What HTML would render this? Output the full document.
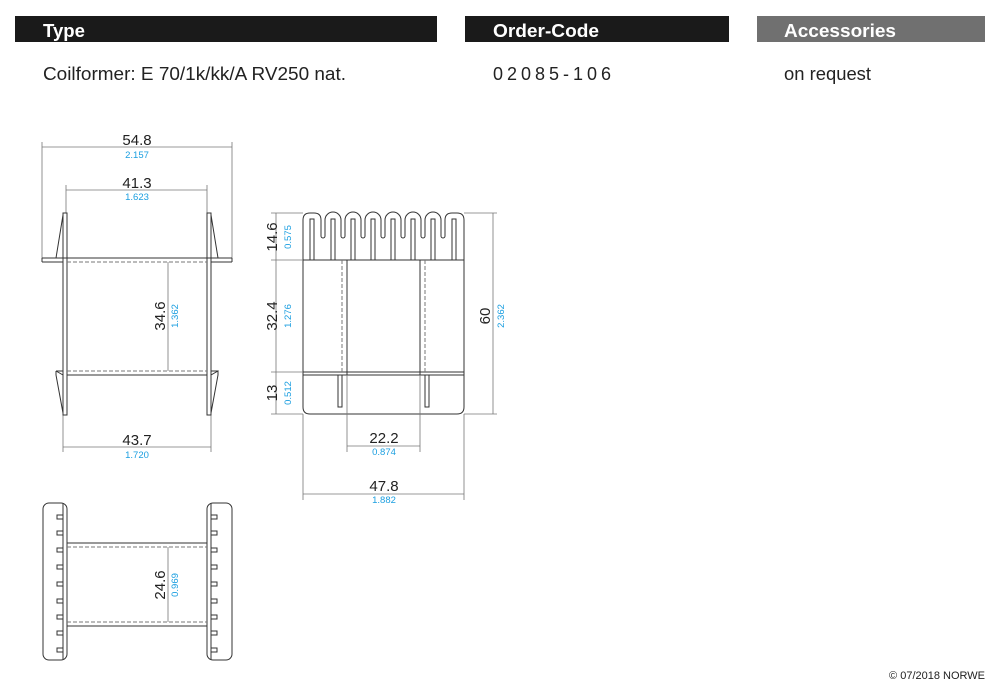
<!DOCTYPE html>
<html><head><meta charset="utf-8"><style>
html,body{margin:0;padding:0;background:#fff;width:1000px;height:697px;overflow:hidden}
svg{display:block}
.t{font-family:"Liberation Sans",sans-serif}
</style></head><body>
<svg width="1000" height="697" viewBox="0 0 1000 697" xmlns="http://www.w3.org/2000/svg">
<rect x="15" y="16" width="422" height="26" fill="#1a1a1a"/>
<rect x="465" y="16" width="264" height="26" fill="#1a1a1a"/>
<rect x="757" y="16" width="228" height="26" fill="#707070"/>
<g class="t" font-size="18" font-weight="bold" fill="#fff">
<text x="43" y="37" textLength="42" lengthAdjust="spacingAndGlyphs">Type</text><text x="493" y="37" textLength="106" lengthAdjust="spacingAndGlyphs">Order-Code</text><text x="784" y="37" textLength="112" lengthAdjust="spacingAndGlyphs">Accessories</text></g>
<g class="t" font-size="18" fill="#222">
<text x="43" y="80" textLength="303" lengthAdjust="spacingAndGlyphs">Coilformer:  E 70/1k/kk/A RV250 nat.</text>
<text x="493" y="80" textLength="118" lengthAdjust="spacing">02085-106</text>
<text x="784" y="80" textLength="87" lengthAdjust="spacingAndGlyphs">on request</text></g>
<text class="t" x="985" y="679" font-size="11" fill="#222" text-anchor="end">© 07/2018 NORWE</text>

<g fill="none" stroke="#333" stroke-width="1">
<path d="M42,142V262M232,142V262M42,147H232M66,185V213M207,185V213M66,190H207M63,415V452M211,415V452M63,447H211" stroke="#777" stroke-width="0.8"/>
<rect x="63" y="213" width="4" height="202" fill="#fff"/>
<rect x="207" y="213" width="4" height="202" fill="#fff"/>
<path d="M63,215L56,258H63M211,215L218,258H211"/>
<path d="M63,375L56,371M56,371V375L63,413M211,375L218,371V375L211,413"/>
<path d="M42,258H232M42,262H63M211,262H232M42,258V262M232,258V262"/>
<path d="M67,262H207M67,371H207" stroke-dasharray="4,2" stroke="#777"/>
<path d="M67,375H207M56,371H63M211,371H218"/>
<path d="M168,262V371" stroke="#777" stroke-width="0.8"/>
<path d="M303,260V220Q303,213 310,213H314Q321,213 321,220V236A2,2 0 0 0 325,236V220A8,8 0 0 1 341,220V236A2,2 0 0 0 345,236V220A8,8 0 0 1 361,220V236A2,2 0 0 0 365,236V220A8,8 0 0 1 381,220V236A2,2 0 0 0 385,236V220A8,8 0 0 1 401,220V236A2,2 0 0 0 405,236V220A8,8 0 0 1 421,220V236A2,2 0 0 0 425,236V220A8,8 0 0 1 441,220V236A2,2 0 0 0 445,236V220Q445,213 452,213H457Q464,213 464,220V407Q464,414 457,414H310Q303,414 303,407Z"/>
<path d="M310,260V219H314V260M331,260V219H335V260M351,260V219H355V260M371,260V219H375V260M391,260V219H395V260M411,260V219H415V260M431,260V219H435V260M452,260V219H456V260"/>
<path d="M303,260H464M303,372H464M303,375H464M347,260V375M420,260V375"/>
<path d="M342,260V372M425,260V372" stroke-dasharray="4,2" stroke="#777"/>
<rect x="338" y="375" width="4" height="32"/><rect x="425" y="375" width="4" height="32"/>
<path d="M271,213H303M271,260H303M271,372H303M271,414H303M276,213V414M464,213H497M464,414H497M493,213V414M347,375V452M420,375V452M347,446H420M303,414V500M464,414V500M303,494H464" stroke="#777" stroke-width="0.8"/>
<rect x="43" y="503" width="24" height="157" rx="6"/>
<rect x="207" y="503" width="25" height="157" rx="6"/>
<path d="M63,503V660M211,503V660"/>
<g id="pl">
<rect x="57" y="515" width="6" height="4"/><rect x="57" y="531" width="6" height="4"/><rect x="57" y="548" width="6" height="4"/><rect x="57" y="565" width="6" height="4"/><rect x="57" y="582" width="6" height="4"/><rect x="57" y="599" width="6" height="4"/><rect x="57" y="615" width="6" height="4"/><rect x="57" y="631" width="6" height="4"/><rect x="57" y="648" width="6" height="4"/></g>
<use href="#pl" transform="translate(154,0)"/>
<path d="M67,543H207M67,626H207"/>
<path d="M67,547H207M67,622H207" stroke-dasharray="4,2" stroke="#777"/>
<path d="M168,547V622" stroke="#777" stroke-width="0.8"/>
</g>

<g class="t" font-size="15" fill="#222" text-anchor="middle">
<text x="137" y="145">54.8</text><text x="137" y="188">41.3</text><text x="137" y="445">43.7</text>
<text x="384" y="443">22.2</text><text x="384" y="491">47.8</text>
<text transform="translate(165,316) rotate(-90)">34.6</text>
<text transform="translate(165,585) rotate(-90)">24.6</text>
<text transform="translate(277,237) rotate(-90)">14.6</text>
<text transform="translate(277,316) rotate(-90)">32.4</text>
<text transform="translate(277,393) rotate(-90)">13</text>
<text transform="translate(490,316) rotate(-90)">60</text>
</g>
<g class="t" font-size="9.5" fill="#1a9ee0" text-anchor="middle">
<text x="137" y="158">2.157</text><text x="137" y="200">1.623</text><text x="137" y="458">1.720</text>
<text x="384" y="455">0.874</text><text x="384" y="503">1.882</text>
<text transform="translate(178,316) rotate(-90)">1.362</text>
<text transform="translate(178,585) rotate(-90)">0.969</text>
<text transform="translate(291,237) rotate(-90)">0.575</text>
<text transform="translate(291,316) rotate(-90)">1.276</text>
<text transform="translate(291,393) rotate(-90)">0.512</text>
<text transform="translate(504,316) rotate(-90)">2.362</text>
</g>
</svg>
</body></html>
